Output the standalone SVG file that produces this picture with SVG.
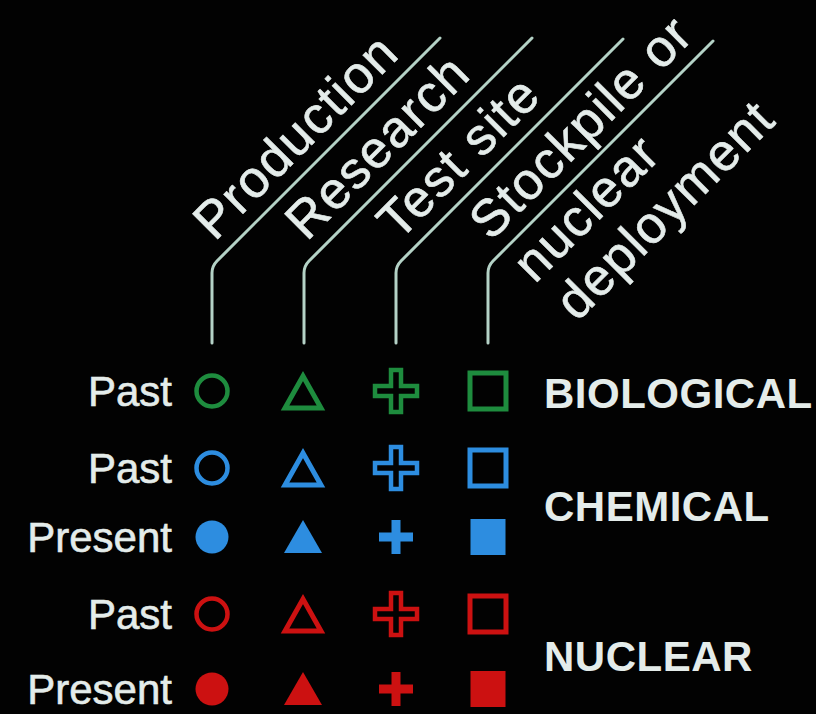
<svg xmlns="http://www.w3.org/2000/svg" width="816" height="714" viewBox="0 0 816 714">
<style>
.hdr{font-family:"Liberation Sans",Arial,sans-serif;font-size:52px;fill:#e4ecea;stroke:#e4ecea;stroke-width:0.6px;letter-spacing:1.5px}
.row{font-family:"Liberation Sans",Arial,sans-serif;font-size:42px;fill:#e4ecea;stroke:#e4ecea;stroke-width:0.6px;text-anchor:end}
.cat{font-family:"Liberation Sans",Arial,sans-serif;font-size:42px;font-weight:bold;fill:#e4ecea;letter-spacing:0.5px}
.lead{fill:none;stroke:#b4d2c6;stroke-width:3;stroke-linecap:round;stroke-linejoin:round}
.g{stroke:#1e8c3e;fill:#1e8c3e}
.b{stroke:#2d8de0;fill:#2d8de0}
.r{stroke:#cc1111;fill:#cc1111}
.o{fill:none;stroke-width:5;stroke-linejoin:miter}
.oc{fill:none;stroke-width:4.5}
.f{stroke:none}
</style>
<defs>
<circle id="cO" r="15.5"/>
<circle id="cF" r="16.5"/>
<polygon id="tO" points="-18,17 18,17 0,-15"/>
<polygon id="tF" points="-19,16 19,16 0,-17"/>
<rect id="sO" x="-18" y="-18" width="36" height="36"/>
<rect id="sF" x="-17.5" y="-18" width="35" height="36"/>
<polygon id="xO" points="-5,-21 5,-21 5,-5 21,-5 21,5 5,5 5,21 -5,21 -5,5 -21,5 -21,-5 -5,-5"/>
<polygon id="xF" points="-4.5,-17 4.5,-17 4.5,-4.5 17,-4.5 17,4.5 4.5,4.5 4.5,17 -4.5,17 -4.5,4.5 -17,4.5 -17,-4.5 -4.5,-4.5"/>
</defs>
<rect x="0" y="0" width="816" height="714" fill="#020202"/>

<g id="connectors">
<path class="lead" d="M212,343 V273 Q212,266 217,261 L440,38"/>
<path class="lead" d="M304,343 V273 Q304,266 309,261 L532,38"/>
<path class="lead" d="M396,343 V273 Q396,266 401,261 L623,39"/>
<path class="lead" d="M488,343 V273 Q488,266 493,261 L713,41"/>
</g>

<g id="hdr-production" transform="translate(212,266) rotate(-45)">
<text class="hdr" x="19" y="-15">Production</text>
</g>
<g id="hdr-research" transform="translate(304,266) rotate(-45)">
<text class="hdr" x="19" y="-15">Research</text>
</g>
<g id="hdr-testsite" transform="translate(396,266) rotate(-45)">
<text class="hdr" x="19" y="-15">Test site</text>
</g>
<g id="hdr-stockpile" transform="translate(488,266) rotate(-45)">
<text class="hdr" x="19" y="-15">Stockpile or</text>
<text class="hdr" x="20" y="46">nuclear</text>
<text class="hdr" x="23" y="103">deployment</text>
</g>

<g id="row-labels">
<text class="row" x="172" y="406">Past</text>
<text class="row" x="172" y="483">Past</text>
<text class="row" x="172" y="552">Present</text>
<text class="row" x="172" y="629">Past</text>
<text class="row" x="172" y="704">Present</text>
</g>

<g id="cat-biological"><text class="cat" x="544" y="408">BIOLOGICAL</text></g>
<g id="cat-chemical"><text class="cat" x="544" y="521">CHEMICAL</text></g>
<g id="cat-nuclear"><text class="cat" x="544" y="671">NUCLEAR</text></g>

<g id="bio-past">
<use href="#cO" class="g oc" x="212" y="391"/>
<use href="#tO" class="g o" x="303" y="391"/>
<use href="#xO" class="g oc" x="396" y="391"/>
<use href="#sO" class="g o" x="488" y="391"/>
</g>
<g id="chem-past">
<use href="#cO" class="b oc" x="212" y="468"/>
<use href="#tO" class="b o" x="303" y="468"/>
<use href="#xO" class="b oc" x="396" y="468"/>
<use href="#sO" class="b o" x="488" y="468"/>
</g>
<g id="chem-present">
<use href="#cF" class="b f" x="212" y="537"/>
<use href="#tF" class="b f" x="303" y="537"/>
<use href="#xF" class="b f" x="396" y="537"/>
<use href="#sF" class="b f" x="488" y="537"/>
</g>
<g id="nuc-past">
<use href="#cO" class="r oc" x="212" y="614"/>
<use href="#tO" class="r o" x="303" y="614"/>
<use href="#xO" class="r oc" x="396" y="614"/>
<use href="#sO" class="r o" x="488" y="614"/>
</g>
<g id="nuc-present">
<use href="#cF" class="r f" x="212" y="689"/>
<use href="#tF" class="r f" x="303" y="689"/>
<use href="#xF" class="r f" x="396" y="689"/>
<use href="#sF" class="r f" x="488" y="689"/>
</g>
</svg>
